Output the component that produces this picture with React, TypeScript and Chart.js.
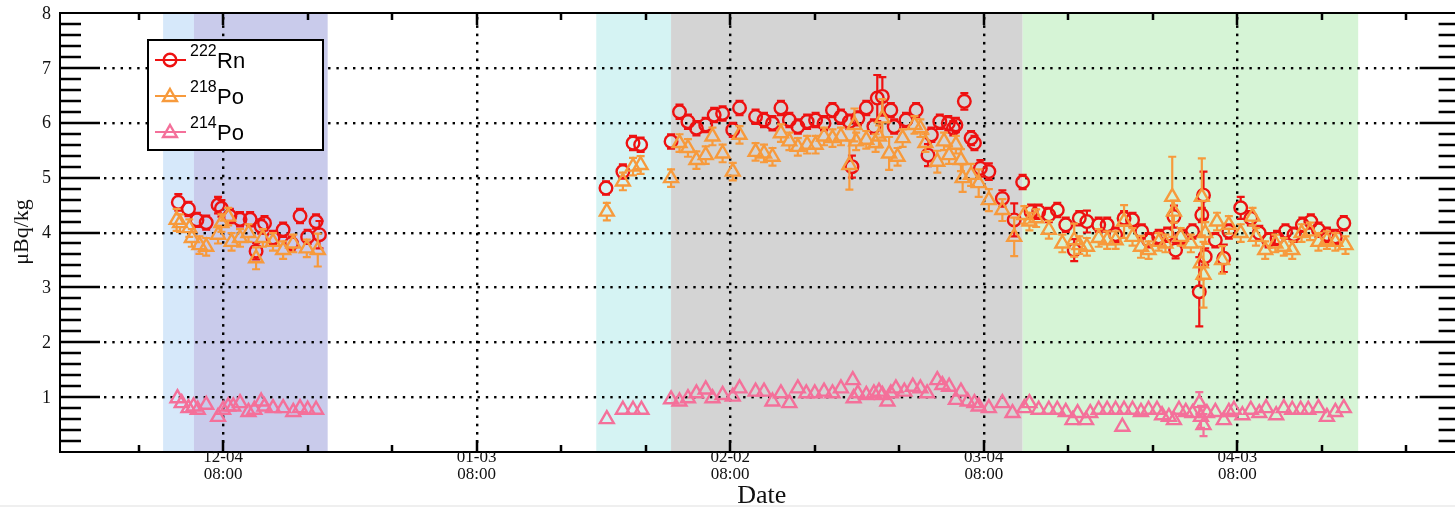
import React, { useEffect, useRef } from "react";
import { Chart, registerables } from "chart.js";
Chart.register(...registerables);

const W = 1470;
const H = 507;

// x values: days relative to 12-04 08:00
const rnDays = [-5.3, -4.1, -3.1, -2.0, -0.6, -0.2, 0.8, 2.0, 3.2, 3.9, 4.5, 4.9, 5.9, 7.1, 8.1, 9.1, 10.0, 11.0, 11.4,
  45.3, 47.3, 48.5, 49.4, 53.0, 54.0, 55.0, 56.0, 57.1, 58.1, 59.1, 60.3, 61.1, 63.0, 64.0, 65.0, 66.0, 67.0, 68.0, 69.1, 70.1, 71.1, 72.1, 73.1, 74.1, 74.4, 75.1, 76.1, 77.0, 77.4, 78.0, 79.0, 79.4, 80.8, 82.0, 83.4, 83.8, 84.8, 85.8, 86.4, 86.7, 87.7, 88.5, 88.9, 89.6, 90.6, 92.2,
  93.6, 94.6, 95.6, 96.5, 97.7, 98.7, 99.7, 100.7, 101.3, 102.2, 103.6, 104.6, 105.6, 106.6, 107.6, 108.7, 109.5, 110.7, 111.7, 112.5, 112.7, 113.5, 114.7, 115.5, 115.8, 116.0, 116.2, 117.4, 118.4, 119.0, 120.4, 121.6, 122.6, 123.7, 124.7, 125.7, 126.7, 127.7, 128.7, 129.6, 130.6, 131.6, 132.6];
const rnVals = [4.55, 4.43, 4.23, 4.18, 4.50, 4.44, 4.30, 4.24, 4.24, 3.66, 4.11, 4.17, 3.90, 4.05, 3.80, 4.30, 3.92, 4.20, 3.96,
  4.81, 5.11, 5.63, 5.60, 5.66, 6.20, 6.02, 5.90, 5.96, 6.14, 6.17, 5.87, 6.27, 6.11, 6.05, 5.99, 6.27, 6.05, 5.93, 6.02, 6.05, 5.99, 6.23, 6.11, 6.02, 5.20, 6.08, 6.27, 5.93, 6.45, 6.48, 6.23, 5.93, 6.05, 6.23, 5.41, 5.78, 6.02, 5.99, 5.90, 5.96, 6.39, 5.72, 5.63, 5.17, 5.11, 4.62,
  4.23, 4.92, 4.38, 4.38, 4.32, 4.41, 4.14, 3.68, 4.26, 4.20, 4.14, 4.14, 3.96, 4.26, 4.23, 4.02, 3.86, 3.92, 3.96, 4.29, 3.68, 3.92, 4.02, 2.92, 4.32, 4.68, 3.56, 3.86, 3.53, 4.02, 4.45, 4.26, 3.99, 3.86, 3.90, 4.02, 3.96, 4.14, 4.20, 4.05, 3.96, 3.92, 4.17];
const rnErr = [0.15, 0.13, 0.13, 0.13, 0.15, 0.15, 0.13, 0.13, 0.13, 0.15, 0.13, 0.13, 0.13, 0.13, 0.13, 0.13, 0.13, 0.13, 0.25,
  0.12, 0.13, 0.13, 0.13, 0.13, 0.13, 0.13, 0.13, 0.13, 0.13, 0.13, 0.13, 0.13, 0.13, 0.13, 0.13, 0.13, 0.13, 0.13, 0.13, 0.13, 0.13, 0.13, 0.13, 0.13, 0.2, 0.13, 0.13, 0.13, 0.42, 0.35, 0.13, 0.13, 0.13, 0.13, 0.2, 0.13, 0.13, 0.13, 0.13, 0.13, 0.15, 0.13, 0.13, 0.15, 0.15, 0.15,
  0.3, 0.13, 0.13, 0.13, 0.13, 0.13, 0.13, 0.2, 0.13, 0.2, 0.13, 0.13, 0.13, 0.13, 0.13, 0.13, 0.13, 0.13, 0.13, 0.2, 0.15, 0.13, 0.13, 0.63, 0.13, 0.43, 0.15, 0.13, 0.25, 0.13, 0.2, 0.13, 0.13, 0.13, 0.13, 0.13, 0.13, 0.13, 0.13, 0.13, 0.13, 0.13, 0.13];

const po218Days = [-5.5, -5.1, -4.0, -3.7, -2.8, -2.0, -0.6, -0.2, 0.6, 1.0, 2.0, 3.0, 3.9, 4.7, 5.9, 7.1, 8.3, 9.9, 11.2,
  45.4, 47.3, 48.5, 49.4, 53.0, 54.0, 55.0, 56.0, 57.1, 57.9, 59.1, 60.3, 61.1, 63.0, 64.0, 65.0, 66.0, 67.0, 68.0, 69.1, 70.1, 71.1, 72.1, 73.1, 74.1, 74.7, 74.9, 76.1, 77.2, 77.6, 78.0, 78.8, 79.8, 80.4, 81.8, 82.5, 83.1, 84.5, 85.3, 85.9, 86.7, 87.3, 87.5, 88.5, 89.4, 90.6, 92.2, 93.6,
  94.8, 95.4, 96.2, 97.7, 99.3, 100.7, 101.3, 102.2, 103.6, 104.6, 105.6, 106.6, 107.6, 108.6, 109.5, 110.7, 111.5, 112.3, 112.5, 113.3, 114.5, 115.7, 115.8, 116.0, 116.2, 117.6, 118.2, 119.0, 120.4, 121.8, 122.2, 123.3, 124.5, 125.5, 126.5, 127.6, 128.6, 129.6, 130.6, 131.6, 132.8];
const po218Vals = [4.23, 4.17, 4.08, 3.90, 3.77, 3.74, 3.96, 4.17, 4.29, 3.83, 3.90, 3.99, 3.53, 3.90, 3.83, 3.68, 3.80, 3.71, 3.68,
  4.38, 4.93, 5.20, 5.23, 4.99, 5.63, 5.54, 5.32, 5.41, 5.75, 5.44, 5.11, 5.78, 5.47, 5.44, 5.38, 5.81, 5.66, 5.56, 5.60, 5.60, 5.75, 5.72, 5.75, 5.23, 5.96, 5.66, 5.69, 5.63, 5.75, 6.08, 5.44, 5.38, 5.72, 5.96, 5.90, 5.63, 5.29, 5.66, 5.41, 5.60, 5.32, 4.99, 5.05, 4.90, 4.59, 4.41, 3.92,
  4.32, 4.20, 4.26, 4.05, 3.80, 3.86, 3.77, 3.74, 3.90, 3.86, 3.86, 4.20, 3.92, 3.74, 3.68, 3.83, 3.80, 4.65, 4.38, 3.92, 3.80, 3.44, 4.65, 3.23, 3.99, 4.20, 3.50, 4.14, 3.99, 4.29, 3.92, 3.68, 3.80, 3.74, 3.68, 3.99, 4.02, 3.83, 3.86, 3.83, 3.77];
const po218Err = [0.2, 0.16, 0.16, 0.16, 0.16, 0.16, 0.16, 0.16, 0.16, 0.16, 0.16, 0.16, 0.2, 0.16, 0.16, 0.16, 0.16, 0.16, 0.3,
  0.16, 0.16, 0.16, 0.16, 0.16, 0.16, 0.16, 0.16, 0.16, 0.16, 0.16, 0.16, 0.16, 0.16, 0.16, 0.16, 0.16, 0.16, 0.16, 0.16, 0.16, 0.16, 0.16, 0.16, 0.45, 0.3, 0.16, 0.16, 0.16, 0.2, 0.35, 0.3, 0.16, 0.16, 0.16, 0.16, 0.16, 0.2, 0.16, 0.16, 0.16, 0.2, 0.25, 0.2, 0.25, 0.2, 0.2, 0.35,
  0.16, 0.16, 0.16, 0.16, 0.16, 0.3, 0.16, 0.16, 0.16, 0.16, 0.16, 0.3, 0.16, 0.2, 0.16, 0.16, 0.16, 0.73, 0.2, 0.16, 0.16, 0.3, 0.7, 0.6, 0.2, 0.16, 0.25, 0.16, 0.16, 0.16, 0.16, 0.16, 0.16, 0.16, 0.16, 0.16, 0.16, 0.16, 0.16, 0.16, 0.16];

const po214Days = [-5.4, -4.9, -4.1, -3.5, -3.0, -2.0, -0.6, 0.0, 0.6, 1.2, 2.0, 3.0, 3.7, 4.5, 4.9, 5.9, 7.1, 8.3, 9.1, 10.0, 11.0,
  45.4, 47.3, 48.5, 49.5, 53.0, 54.0, 55.0, 56.0, 57.1, 57.9, 59.1, 60.3, 61.1, 63.0, 64.0, 65.0, 66.0, 67.0, 68.0, 69.0, 70.0, 71.1, 72.1, 73.1, 74.5, 74.6, 75.1, 76.1, 77.0, 77.6, 78.0, 78.6, 79.0, 79.6, 80.6, 81.6, 82.5, 83.3, 84.5, 85.1, 85.9, 86.7, 87.3, 88.1, 88.9, 89.4, 90.6, 92.2, 93.4,
  94.8, 95.4, 96.5, 97.7, 98.7, 99.7, 100.5, 101.1, 102.1, 102.6, 103.6, 104.6, 105.6, 106.4, 106.6, 107.6, 108.6, 109.5, 110.5, 111.1, 111.9, 112.5, 113.1, 113.9, 114.7, 115.5, 115.7, 116.0, 116.4, 117.4, 118.4, 119.0, 119.6, 120.6, 121.6, 122.6, 123.4, 124.6, 125.5, 126.5, 127.5, 128.4, 129.6, 130.6, 131.6, 132.6];
const po214Vals = [0.98, 0.89, 0.80, 0.83, 0.77, 0.86, 0.64, 0.77, 0.83, 0.83, 0.89, 0.73, 0.77, 0.92, 0.83, 0.80, 0.80, 0.73, 0.80, 0.77, 0.77,
  0.60, 0.77, 0.77, 0.77, 0.96, 0.92, 0.98, 1.07, 1.14, 0.98, 1.04, 1.01, 1.16, 1.10, 1.10, 0.92, 1.07, 0.89, 1.16, 1.07, 1.07, 1.10, 1.07, 1.16, 1.31, 0.98, 1.07, 1.04, 1.07, 1.10, 1.04, 0.92, 1.07, 1.16, 1.10, 1.19, 1.16, 1.07, 1.31, 1.22, 1.19, 0.95, 1.10, 0.92, 0.89, 0.83, 0.80, 0.89, 0.71,
  0.80, 0.89, 0.77, 0.77, 0.77, 0.73, 0.58, 0.71, 0.58, 0.71, 0.77, 0.77, 0.77, 0.46, 0.77, 0.77, 0.73, 0.77, 0.77, 0.67, 0.64, 0.58, 0.77, 0.73, 0.71, 0.89, 0.64, 0.49, 0.71, 0.73, 0.58, 0.73, 0.77, 0.67, 0.77, 0.71, 0.80, 0.67, 0.80, 0.77, 0.77, 0.77, 0.80, 0.64, 0.73, 0.80];
const po214Err = [0.05, 0.05, 0.05, 0.05, 0.05, 0.05, 0.05, 0.05, 0.05, 0.05, 0.05, 0.05, 0.05, 0.05, 0.05, 0.05, 0.05, 0.05, 0.05, 0.05, 0.05,
  0.05, 0.05, 0.05, 0.05, 0.05, 0.05, 0.05, 0.05, 0.05, 0.05, 0.05, 0.05, 0.05, 0.05, 0.05, 0.05, 0.05, 0.05, 0.05, 0.05, 0.05, 0.05, 0.05, 0.05, 0.05, 0.05, 0.05, 0.05, 0.05, 0.05, 0.05, 0.05, 0.05, 0.05, 0.05, 0.05, 0.05, 0.05, 0.05, 0.05, 0.05, 0.05, 0.05, 0.05, 0.05, 0.05, 0.05, 0.05, 0.05,
  0.05, 0.05, 0.05, 0.05, 0.05, 0.05, 0.05, 0.05, 0.05, 0.05, 0.05, 0.05, 0.05, 0.05, 0.05, 0.05, 0.05, 0.05, 0.05, 0.05, 0.05, 0.05, 0.05, 0.05, 0.05, 0.2, 0.2, 0.2, 0.05, 0.05, 0.05, 0.05, 0.05, 0.05, 0.05, 0.05, 0.05, 0.05, 0.05, 0.05, 0.05, 0.05, 0.05, 0.05, 0.05, 0.05];

// x-axis ticks
const xMajorDays = [0, 30, 60, 90, 120];
const xMajorDates = ["12-04", "01-03", "02-02", "03-04", "04-03"];
const xMajorTime = "08:00";
const xMinorDays = [-10, 10, 20, 40, 50, 70, 80, 100, 110, 130, 140];
const yMajor = [1, 2, 3, 4, 5, 6, 7, 8];

// shaded periods
const bandStart = [-7.1, -3.45, 44.15, 53.0, 94.6];
const bandEnd = [-3.45, 12.37, 53.0, 94.6, 134.3];
const bandColor = ["#d6e8fa", "#c9cbeb", "#d5f3f3", "#d4d4d4", "#d6f4d6"];

const seriesNames = [["222", "Rn"], ["218", "Po"], ["214", "Po"]];
const seriesColors = ["#ee1111", "#f79a3c", "#f4709a"];
const seriesStyles = ["circle", "triangle", "triangle"];
const CIRCLE_R = 6.3;
const TRI_R = 8;
const MARK_W = 2.4;

function toPts(d: number[], v: number[]) {
  return d.map((x, i) => ({ x, y: v[i] }));
}

function drawMarker(ctx: CanvasRenderingContext2D, style: string, x: number, y: number, color: string) {
  ctx.strokeStyle = color;
  ctx.lineWidth = MARK_W;
  ctx.beginPath();
  if (style === "circle") {
    ctx.arc(x, y, CIRCLE_R, 0, Math.PI * 2);
  } else {
    const r = TRI_R;
    ctx.moveTo(x, y - r);
    ctx.lineTo(x + Math.sin((2 * Math.PI) / 3) * r, y + r / 2);
    ctx.lineTo(x - Math.sin((2 * Math.PI) / 3) * r, y + r / 2);
    ctx.closePath();
  }
  ctx.stroke();
}

const framePlugin = {
  id: "frame",
  beforeDatasetsDraw(chart: any) {
    const { ctx, chartArea: a, scales } = chart;
    const xs = scales.x;
    const ys = scales.y;
    ctx.save();
    for (let i = 0; i < bandStart.length; i++) {
      const x0 = xs.getPixelForValue(bandStart[i]);
      const x1 = xs.getPixelForValue(bandEnd[i]);
      ctx.fillStyle = bandColor[i];
      ctx.fillRect(x0, a.top, x1 - x0, a.bottom - a.top);
    }
    ctx.fillStyle = "#000";
    for (const v of yMajor) {
      if (v >= 8) continue;
      const py = Math.round(ys.getPixelForValue(v));
      for (let px = a.left + 44; px < a.right - 40; px += 8.3) ctx.fillRect(px, py - 1, 2.4, 2.4);
    }
    for (const d of xMajorDays) {
      const px = Math.round(xs.getPixelForValue(d));
      for (let py = a.top + 4; py < a.bottom - 10; py += 8.3) ctx.fillRect(px - 1, py, 2.4, 2.6);
    }
    ctx.restore();
  },
  afterDatasetDraw(chart: any, args: any) {
    const ds = chart.data.datasets[args.index];
    const errs: number[] = ds.errs;
    const style: string = ds.markerStyle;
    const ys = chart.scales.y;
    const { ctx, chartArea: a } = chart;
    ctx.save();
    ctx.beginPath();
    ctx.rect(a.left, a.top, a.right - a.left, a.bottom - a.top);
    ctx.clip();
    ctx.strokeStyle = ds.borderColor;
    ctx.lineWidth = 2.2;
    args.meta.data.forEach((el: any, i: number) => {
      const v = ds.data[i].y;
      const e = errs[i];
      const px = el.x;
      const py = el.y;
      const top = ys.getPixelForValue(v + e);
      const bot = ys.getPixelForValue(v - e);
      const upEdge = style === "circle" ? CIRCLE_R : TRI_R;
      const dnEdge = style === "circle" ? CIRCLE_R : TRI_R / 2;
      ctx.beginPath();
      if (py - top > upEdge) {
        ctx.moveTo(px, py - upEdge);
        ctx.lineTo(px, top);
        ctx.moveTo(px - 4, top);
        ctx.lineTo(px + 4, top);
      }
      if (bot - py > dnEdge) {
        ctx.moveTo(px, py + dnEdge);
        ctx.lineTo(px, bot);
        ctx.moveTo(px - 4, bot);
        ctx.lineTo(px + 4, bot);
      }
      ctx.stroke();
    });
    ctx.restore();
  },
  afterDraw(chart: any) {
    const { ctx, chartArea: a, scales } = chart;
    const xs = scales.x;
    const ys = scales.y;
    ctx.save();
    ctx.strokeStyle = "#000";
    ctx.lineWidth = 2.5;
    ctx.beginPath();
    for (let k = 1; k < 40; k++) {
      const v = k * 0.2;
      const major = k % 5 === 0;
      const len = major ? 40 : 21;
      const py = Math.round(ys.getPixelForValue(v));
      ctx.moveTo(a.left, py);
      ctx.lineTo(a.left + len, py);
      ctx.moveTo(a.right, py);
      ctx.lineTo(a.right - len, py);
    }
    for (const d of xMajorDays) {
      const px = Math.round(xs.getPixelForValue(d));
      ctx.moveTo(px, a.bottom);
      ctx.lineTo(px, a.bottom - 12);
      ctx.moveTo(px, a.top);
      ctx.lineTo(px, a.top + 12);
    }
    for (const d of xMinorDays) {
      const px = Math.round(xs.getPixelForValue(d));
      ctx.moveTo(px, a.bottom);
      ctx.lineTo(px, a.bottom - 7);
      ctx.moveTo(px, a.top);
      ctx.lineTo(px, a.top + 7);
    }
    ctx.stroke();
    ctx.lineWidth = 2;
    ctx.strokeRect(a.left, a.top, a.right - a.left, a.bottom - a.top);

    ctx.fillStyle = "#111";
    ctx.font = "18px 'Liberation Serif', serif";
    ctx.textAlign = "right";
    ctx.textBaseline = "middle";
    for (const v of yMajor) {
      ctx.fillText(String(v), 51, ys.getPixelForValue(v) + 1);
    }
    ctx.font = "17px 'Liberation Serif', serif";
    ctx.textAlign = "center";
    xMajorDays.forEach((d, i) => {
      const px = xs.getPixelForValue(d);
      ctx.fillText(xMajorDates[i], px, a.bottom + 6);
      ctx.fillText(xMajorTime, px, a.bottom + 23);
    });
    ctx.font = "26px 'Liberation Serif', serif";
    ctx.fillText("Date", (a.left + a.right) / 2 + 2, a.bottom + 44);
    ctx.save();
    ctx.translate(22, 232);
    ctx.rotate(-Math.PI / 2);
    ctx.font = "22px 'Liberation Serif', serif";
    ctx.fillText("\u03bcBq/kg", 0, 0);
    ctx.restore();

    // legend
    ctx.fillStyle = "#fff";
    ctx.fillRect(148, 40, 175, 110);
    ctx.lineWidth = 2;
    ctx.strokeStyle = "#000";
    ctx.strokeRect(148, 40, 175, 110);
    seriesNames.forEach((nm, i) => {
      const cy = 60 + i * 36;
      const col = seriesColors[i];
      ctx.strokeStyle = col;
      ctx.lineWidth = 2;
      ctx.beginPath();
      ctx.moveTo(155, cy);
      ctx.lineTo(186, cy);
      ctx.stroke();
      drawMarker(ctx, seriesStyles[i], 170, cy + (seriesStyles[i] === "circle" ? 0 : 1), col);
      ctx.fillStyle = "#000";
      ctx.textAlign = "left";
      ctx.textBaseline = "alphabetic";
      ctx.font = "16px 'Liberation Sans', Arial, sans-serif";
      ctx.fillText(nm[0], 190, cy - 4);
      ctx.font = "22px 'Liberation Sans', Arial, sans-serif";
      ctx.fillText(nm[1], 217, cy + 8);
    });
    ctx.fillStyle = "#efefef";
    ctx.fillRect(0, 505, W, 2);
    ctx.restore();
  },
};

export default function App() {
  const ref = useRef<HTMLCanvasElement | null>(null);
  useEffect(() => {
    if (!ref.current) return;
    document.body.style.overflow = "hidden";
    const mk = (i: number, d: number[], v: number[], e: number[], order: number) => ({
      label: seriesNames[i].join(""),
      data: toPts(d, v),
      errs: e,
      markerStyle: seriesStyles[i],
      borderColor: seriesColors[i],
      backgroundColor: "rgba(0,0,0,0)",
      pointStyle: seriesStyles[i],
      pointRadius: seriesStyles[i] === "circle" ? CIRCLE_R : TRI_R,
      pointBorderWidth: MARK_W,
      pointBorderColor: seriesColors[i],
      pointBackgroundColor: "rgba(0,0,0,0)",
      showLine: false,
      order,
    });
    const chart = new Chart(ref.current, {
      type: "scatter",
      data: {
        datasets: [
          mk(0, rnDays, rnVals, rnErr, 3),
          mk(1, po218Days, po218Vals, po218Err, 2),
          mk(2, po214Days, po214Vals, po214Err, 1),
        ] as any,
      },
      options: {
        animation: false,
        responsive: false,
        events: [],
        layout: { padding: { left: 60, top: 13, right: W - 1461, bottom: H - 452 } },
        plugins: { legend: { display: false }, tooltip: { enabled: false } },
        scales: {
          x: { type: "linear", min: -19.3, max: 146.3, display: false },
          y: { type: "linear", min: 0, max: 8, display: false },
        },
      },
      plugins: [framePlugin],
    });
    return () => chart.destroy();
  }, []);
  return (
    <div style={{ position: "fixed", left: 0, top: 0, width: W, height: H }}>
      <canvas ref={ref} width={W} height={H} style={{ width: W, height: H, display: "block" }} />
    </div>
  );
}
